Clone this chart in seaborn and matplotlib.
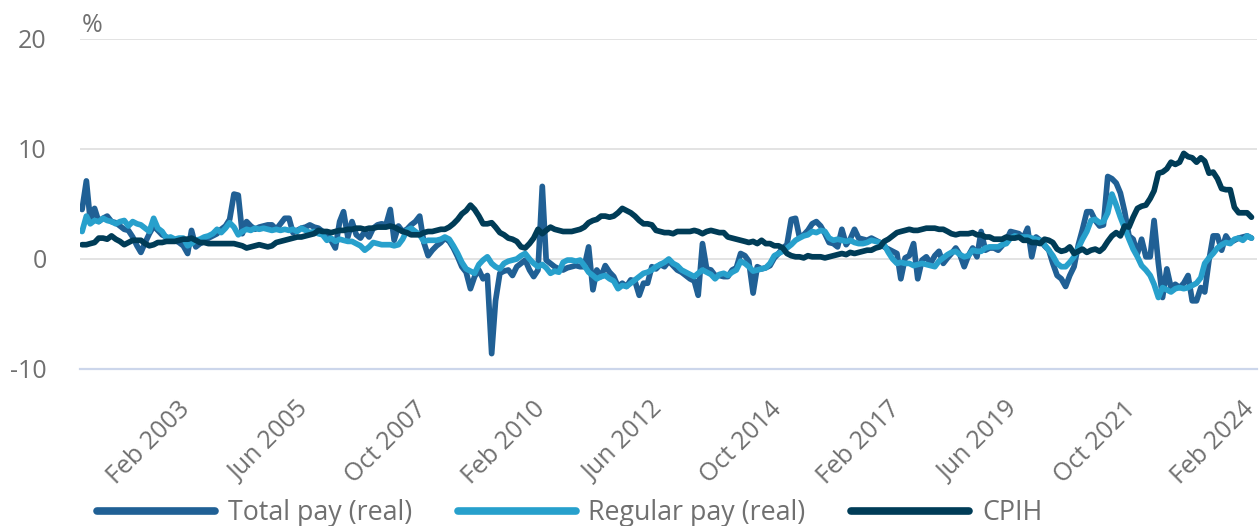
# Ganancias reales vs CPIH, crecimiento anual mensual (%)
import pandas as pd
import matplotlib
matplotlib.use('Agg')
import matplotlib.pyplot as plt
import matplotlib.transforms as mtransforms
from matplotlib.lines import Line2D
import seaborn as sns

# Datos (ene 2001 - feb 2024)
meses = pd.date_range('2001-01-01', '2024-02-01', freq='MS')

total_pay = [
    4.5, 7.1, 3.5, 4.6, 3.4, 3.7, 3.9, 3.4, 3.3, 3.0, 2.7, 2.6,
    2.0, 1.2, 0.6, 1.5, 2.3, 3.0, 2.6, 2.2, 2.0, 1.8, 1.7, 1.5,
    1.2, 0.5, 2.6, 1.1, 1.4, 1.6, 1.9, 2.1, 2.3, 2.7, 3.0, 3.6,
    5.9, 5.8, 2.3, 3.4, 3.0, 2.7, 2.9, 3.0, 3.1, 3.1, 2.7, 3.2,
    3.7, 3.7, 2.4, 2.6, 2.8, 2.9, 3.1, 2.9, 2.8, 2.5, 2.2, 1.7,
    1.0, 3.4, 4.3, 2.0, 3.4, 2.2, 1.9, 2.5, 2.0, 2.8, 3.1, 3.2,
    3.1, 4.5, 1.7, 3.0, 2.5, 2.7, 3.1, 3.4, 3.9, 1.5, 0.3, 0.8,
    1.2, 1.5, 1.9, 1.6, 1.0, 0.2, -0.7, -1.2, -2.7, -1.6, -1.0, -1.8,
    -1.5, -8.6, -3.8, -1.3, -1.1, -1.0, -1.5, -0.7, -0.4, -0.1, -1.0, -1.6,
    -1.0, 6.6, -0.1, -0.4, -0.7, -0.9, -1.0, -0.8, -0.7, -0.6, -0.7, -0.7,
    1.1, -2.8, -1.0, -1.6, -0.6, -1.2, -1.6, -2.5, -2.2, -2.5, -1.9, -2.0,
    -3.3, -2.2, -2.2, -0.7, -0.9, -0.5, -0.7, -0.2, -0.6, -1.0, -1.2, -1.5,
    -1.8, -2.0, -3.3, 1.4, -0.9, -1.0, -1.5, -1.5, -1.6, -1.6, -1.0, -0.8,
    0.5, 0.3, -0.2, -3.1, -0.7, -0.9, -0.8, -0.6, 0.1, 0.5, 1.0, 1.3,
    3.6, 3.7, 2.0, 2.2, 2.6, 3.2, 3.4, 3.0, 2.3, 1.5, 1.4, 1.1,
    2.7, 1.3, 1.8, 2.7, 1.9, 1.8, 1.7, 1.9, 1.7, 1.5, 1.1, 0.9,
    0.7, 0.5, -1.8, 0.1, 0.3, 1.4, -1.8, -0.1, 0.2, -0.4, 0.3, 0.7,
    -0.4, 0.1, 0.5, 1.0, 0.4, -0.7, 0.3, 1.0, 0.2, 2.5, 0.8, 1.0,
    1.0, 0.8, 1.2, 1.7, 2.5, 2.4, 2.3, 1.9, 2.8, 0.2, 2.0, 1.7,
    1.2, 0.8, -0.4, -1.5, -1.8, -2.5, -1.5, -0.7, 1.3, 2.7, 4.3, 4.3,
    3.5, 3.0, 3.1, 7.5, 7.3, 6.9, 6.0, 4.3, 2.1, 1.8, 0.5, 1.8,
    0.2, 0.2, 3.5, -0.4, -3.5, -0.9, -2.6, -2.3, -2.6, -2.2, -1.5, -3.8,
    -3.8, -2.6, -3.0, -0.1, 2.1, 2.1, 0.8, 2.1, 1.5, 1.7, 1.9, 2.0,
    2.1, 1.9,
]

regular_pay = [
    2.5, 3.9, 3.2, 3.5, 3.4, 3.7, 3.5, 3.4, 3.2, 3.4, 3.5, 3.0,
    3.4, 3.2, 3.1, 2.8, 2.5, 3.7, 2.8, 2.5, 1.9, 2.0, 1.8, 1.9,
    1.9, 1.2, 1.4, 1.7, 1.8, 2.0, 2.1, 2.3, 2.7, 2.4, 2.8, 3.3,
    2.9, 2.2, 2.5, 2.7, 2.6, 2.8, 2.7, 2.8, 2.7, 2.6, 2.7, 2.6,
    2.7, 2.6, 2.7, 2.5, 2.8, 2.6, 2.4, 2.5, 2.3, 2.2, 1.7, 1.9,
    1.6, 1.8, 1.7, 1.6, 1.6, 1.4, 1.2, 0.8, 1.1, 1.5, 1.4, 1.3,
    1.3, 1.3, 1.2, 1.3, 1.8, 2.6, 2.8, 2.5, 2.2, 1.6, 1.7, 1.7,
    1.7, 1.8, 2.0, 1.8, 1.2, 0.5, -0.3, -0.9, -1.1, -1.3, -0.5, -0.1,
    0.2, -0.4, -0.7, -0.9, -0.4, -0.2, -0.1, 0.0, 0.3, 0.5, 0.0, -0.4,
    -0.7, -0.5, -0.8, -1.3, -1.1, -1.2, -0.3, -0.1, -0.1, -0.2, -0.1, -0.6,
    -1.2, -1.5, -1.8, -1.6, -1.5, -1.8, -2.0, -2.7, -2.4, -2.5, -2.2, -1.9,
    -1.6, -1.3, -1.2, -1.0, -0.7, -0.5, -0.3, 0.0, -0.4, -0.6, -1.0, -1.2,
    -1.4, -1.6, -1.3, -1.0, -1.2, -1.4, -1.8, -1.4, -1.3, -1.5, -1.2, -1.0,
    -0.2, -0.4, -0.7, -1.1, -1.0, -0.9, -0.8, -0.4, 0.3, 0.5, 0.7, 1.0,
    1.3, 1.7, 1.9, 2.1, 2.2, 2.5, 2.4, 2.6, 2.5, 1.9, 1.7, 1.8,
    1.7, 1.6, 1.7, 1.5, 1.4, 1.4, 1.5, 1.7, 1.6, 1.5, 1.3, 0.6,
    0.0, -0.4, -0.3, -0.4, -0.4, -0.6, -0.5, -0.4, -0.5, -0.6, -0.7, -0.2,
    0.1, 0.4, 0.6, 0.7, 0.4, 0.2, 0.3, 0.8, 0.7, 0.7, 1.0, 1.1,
    1.1, 1.1, 1.3, 1.4, 1.9, 2.1, 2.0, 2.0, 2.0, 1.9, 1.8, 1.7,
    1.3, 0.8, 0.3, -0.4, -0.7, -0.7, -0.3, 0.2, 1.0, 1.8, 2.5, 3.5,
    3.6, 3.3, 3.4, 4.2, 5.9, 4.9, 3.8, 2.8, 1.8, 0.9, 0.2, -0.6,
    -1.0, -1.5, -2.3, -3.5, -2.6, -2.8, -3.0, -2.7, -2.6, -2.7, -2.6, -2.4,
    -2.2, -1.7, -0.4, 0.1, 0.5, 1.0, 1.3, 1.5, 1.4, 1.8, 1.9, 1.7,
    2.1, 1.9,
]

cpih = [
    1.3, 1.3, 1.4, 1.5, 1.9, 1.9, 1.8, 2.1, 1.8, 1.6, 1.3, 1.5,
    1.7, 1.7, 1.7, 1.4, 1.2, 1.3, 1.5, 1.5, 1.6, 1.6, 1.6, 1.7,
    1.8, 1.8, 1.9, 1.7, 1.5, 1.5, 1.4, 1.4, 1.4, 1.4, 1.4, 1.4,
    1.4, 1.3, 1.2, 1.0, 1.1, 1.2, 1.3, 1.2, 1.1, 1.2, 1.5, 1.6,
    1.7, 1.8, 1.9, 2.0, 2.0, 2.1, 2.2, 2.3, 2.6, 2.5, 2.5, 2.4,
    2.5, 2.6, 2.6, 2.7, 2.7, 2.8, 2.8, 2.7, 2.8, 2.8, 2.9, 2.9,
    2.9, 3.0, 2.9, 2.7, 2.5, 2.4, 2.2, 2.2, 2.2, 2.4, 2.5, 2.5,
    2.6, 2.7, 2.7, 2.9, 3.2, 3.6, 4.1, 4.4, 4.9, 4.5, 3.9, 3.2,
    3.2, 3.3, 2.9, 2.4, 2.2, 1.9, 1.8, 1.6, 1.1, 1.0, 1.4, 1.9,
    2.7, 2.3, 2.6, 2.9, 2.7, 2.6, 2.5, 2.5, 2.5, 2.6, 2.7, 2.9,
    3.3, 3.5, 3.6, 3.9, 3.9, 3.8, 3.9, 4.2, 4.6, 4.4, 4.2, 3.9,
    3.5, 3.2, 3.2, 3.1, 2.6, 2.5, 2.4, 2.4, 2.3, 2.5, 2.5, 2.5,
    2.5, 2.6, 2.5, 2.3, 2.5, 2.6, 2.5, 2.4, 2.4, 2.0, 1.9, 1.8,
    1.7, 1.6, 1.5, 1.6, 1.4, 1.7, 1.4, 1.4, 1.2, 1.2, 1.0, 0.5,
    0.3, 0.2, 0.2, 0.1, 0.3, 0.2, 0.2, 0.2, 0.1, 0.2, 0.3, 0.4,
    0.5, 0.4, 0.6, 0.5, 0.6, 0.7, 0.8, 0.8, 1.0, 1.1, 1.6, 1.8,
    2.1, 2.4, 2.5, 2.6, 2.7, 2.6, 2.6, 2.7, 2.8, 2.8, 2.8, 2.7,
    2.7, 2.5, 2.3, 2.2, 2.3, 2.3, 2.3, 2.4, 2.2, 2.2, 2.0, 2.0,
    1.8, 1.8, 1.8, 2.0, 1.9, 1.9, 2.0, 1.7, 1.7, 1.5, 1.5, 1.4,
    1.8, 1.7, 1.5, 0.9, 0.7, 0.8, 1.1, 0.5, 0.7, 0.9, 0.6, 0.8,
    0.9, 0.7, 1.0, 1.6, 2.1, 2.4, 2.1, 3.0, 2.9, 3.8, 4.6, 4.8,
    4.9, 5.5, 6.2, 7.8, 7.9, 8.2, 8.8, 8.6, 8.8, 9.6, 9.3, 9.2,
    8.8, 9.2, 8.9, 7.8, 7.9, 7.3, 6.4, 6.3, 6.3, 4.7, 4.2, 4.2,
    4.2, 3.8,
]

series = ['Total pay (real)', 'Regular pay (real)', 'CPIH']
colores = ['#206095', '#27a0cc', '#003c57']
etiquetas_x = ['Feb 2003', 'Jun 2005', 'Oct 2007', 'Feb 2010', 'Jun 2012',
               'Oct 2014', 'Feb 2017', 'Jun 2019', 'Oct 2021', 'Feb 2024']
ticks_y = [-10, 0, 10, 20]

# Tabla larga para seaborn
df = pd.DataFrame({'Fecha': meses, series[0]: total_pay,
                   series[1]: regular_pay, series[2]: cpih})
largo = df.melt(id_vars='Fecha', var_name='Serie', value_name='Valor')

sns.set_theme(style='white')
plt.rcParams['font.family'] = ['Open Sans', 'DejaVu Sans']
plt.rcParams['axes.unicode_minus'] = False

gris = '#707070'
W, H = 1259, 526
fig = plt.figure(figsize=(W / 100, H / 100), dpi=100)
ax = fig.add_axes([80 / W, 1 - 369 / H, (1257 - 80) / W, 330 / H])

sns.lineplot(data=largo, x='Fecha', y='Valor', hue='Serie', hue_order=series,
             palette=colores, linewidth=4.1, ax=ax, legend=False)

# Ejes
ax.set_ylim(-10, 20)
ax.set_yticks(ticks_y)
ax.set_xlim(pd.Timestamp('2000-12-17'), pd.Timestamp('2024-03-12'))
fechas_ticks = [pd.to_datetime(t, format='%b %Y') for t in etiquetas_x]
ax.set_xticks(fechas_ticks)
ax.set_xlabel('')
ax.set_ylabel('')

ax.grid(axis='y', color='#e3e3e3', linewidth=1.4)
ax.grid(axis='x', visible=False)
ax.set_axisbelow(True)
for lado in ['top', 'right', 'left']:
    ax.spines[lado].set_visible(False)
ax.spines['bottom'].set_color('#ccd6eb')
ax.spines['bottom'].set_linewidth(1.6)

ax.tick_params(axis='x', direction='out', length=15, width=1.6, color='#ccd6eb',
               labelcolor=gris, labelsize=18, pad=5)
ax.tick_params(axis='y', length=0, labelcolor=gris, labelsize=18, pad=24)

ax.set_xticklabels(etiquetas_x, rotation=45, ha='right', rotation_mode='anchor')
# correr un poco las etiquetas a la izquierda para que la ultima no se corte
desplazamiento = mtransforms.ScaledTranslation(-7 / 72, 0, fig.dpi_scale_trans)
for lbl in ax.get_xticklabels():
    lbl.set_transform(lbl.get_transform() + desplazamiento)

fig.text(82 / W, 1 - 25 / H, '%', color=gris, fontsize=18, ha='left', va='center')

# Leyenda
handles = [Line2D([0], [0], color=c, linewidth=5.5) for c in colores]
leg = fig.legend(handles, series, loc='center left',
                 bbox_to_anchor=(97 / W, 1 - 513 / H), ncol=3, frameon=False,
                 fontsize=19.3, handlelength=4.4, handletextpad=0.48,
                 columnspacing=1.7, borderpad=0, borderaxespad=0)
for t in leg.get_texts():
    t.set_color(gris)

fig.savefig('out.png', dpi=100)
plt.close()
